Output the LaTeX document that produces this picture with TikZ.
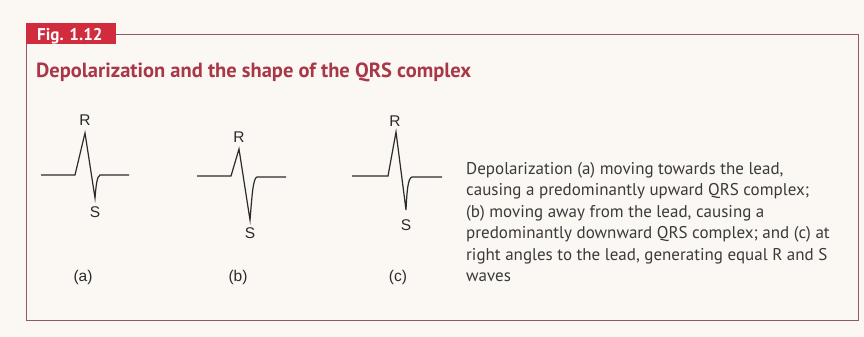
\documentclass[tikz,border=0pt]{standalone}
\usepackage{fontspec}
\setmainfont{PT Sans}
\newfontfamily\lblfont{Liberation Sans}
\definecolor{paper}{HTML}{FBF8F4}
\definecolor{figred}{HTML}{D02C3E}
\definecolor{titlered}{HTML}{A83848}
\definecolor{framecol}{HTML}{8E5A66}
\definecolor{ink}{HTML}{2B2B2B}
\definecolor{bodyink}{HTML}{3A3A3A}
\tikzset{
  trace/.style={draw=ink, line width=1.2pt, line join=miter},
  wavelabel/.style={font=\lblfont\fontsize{15.5}{15.5}\selectfont, text=ink, inner sep=0pt},
  bodyline/.style={anchor=base west, inner sep=0pt, font=\fontsize{17}{17}\selectfont, text=bodyink},
}
\begin{document}
\begin{tikzpicture}[x=1pt,y=-1pt]
\useasboundingbox (0,0) rectangle (864,337);
\fill[paper] (0,0) rectangle (864,337);
% frame
\draw[framecol, line width=0.9pt] (116,34) -- (858,34) -- (858,320) -- (26,320) -- (26,43);
% tab
\fill[figred] (26,23) rectangle (116,44);
\node[anchor=base west, inner sep=0pt, text=white, font=\bfseries\fontsize{17}{17}\selectfont] (fig) at (37,40.5) {Fig. 1.12};
% title
\node[anchor=base west, inner sep=0pt, text=titlered, font=\bfseries\fontsize{20.5}{21}\selectfont] (title) at (36,77.5) {Depolarization and the shape of the QRS complex};
% traces
\draw[trace] (41,175) -- (75,175) -- (85,133) -- (95,198) .. controls (96,186) and (97,176) .. (100,175) -- (129,175);
\draw[trace] (197,176) -- (231,176) -- (239,149) -- (250,220) .. controls (252,196) and (253,178) .. (257,177) -- (286,177);
\draw[trace] (352,176) -- (388,176) -- (396,132) -- (406,210) .. controls (407,190) and (408,178) .. (412,177) -- (442,177);
% labels
\node[wavelabel] (Ra) at (85,120) {R};
\node[wavelabel] (Sa) at (95,212) {S};
\node[wavelabel] (la) at (83,277) {(a)};
\node[wavelabel] (Rb) at (239,137) {R};
\node[wavelabel] (Sb) at (250,233) {S};
\node[wavelabel] (lb) at (238,277) {(b)};
\node[wavelabel] (Rc) at (395,121) {R};
\node[wavelabel] (Sc) at (406,225) {S};
\node[wavelabel] (lc) at (398,277) {(c)};
% caption
\node[bodyline] (t1) at (466,174) {Depolarization (a) moving towards the lead,};
\node[bodyline] (t2) at (466,195.5) {causing a predominantly upward QRS complex;};
\node[bodyline] (t3) at (466,217) {(b) moving away from the lead, causing a};
\node[bodyline] (t4) at (466,238.5) {predominantly downward QRS complex; and (c) at};
\node[bodyline] (t5) at (466,260) {right angles to the lead, generating equal R and S};
\node[bodyline] (t6) at (466,281.5) {waves};
\end{tikzpicture}
\end{document}
